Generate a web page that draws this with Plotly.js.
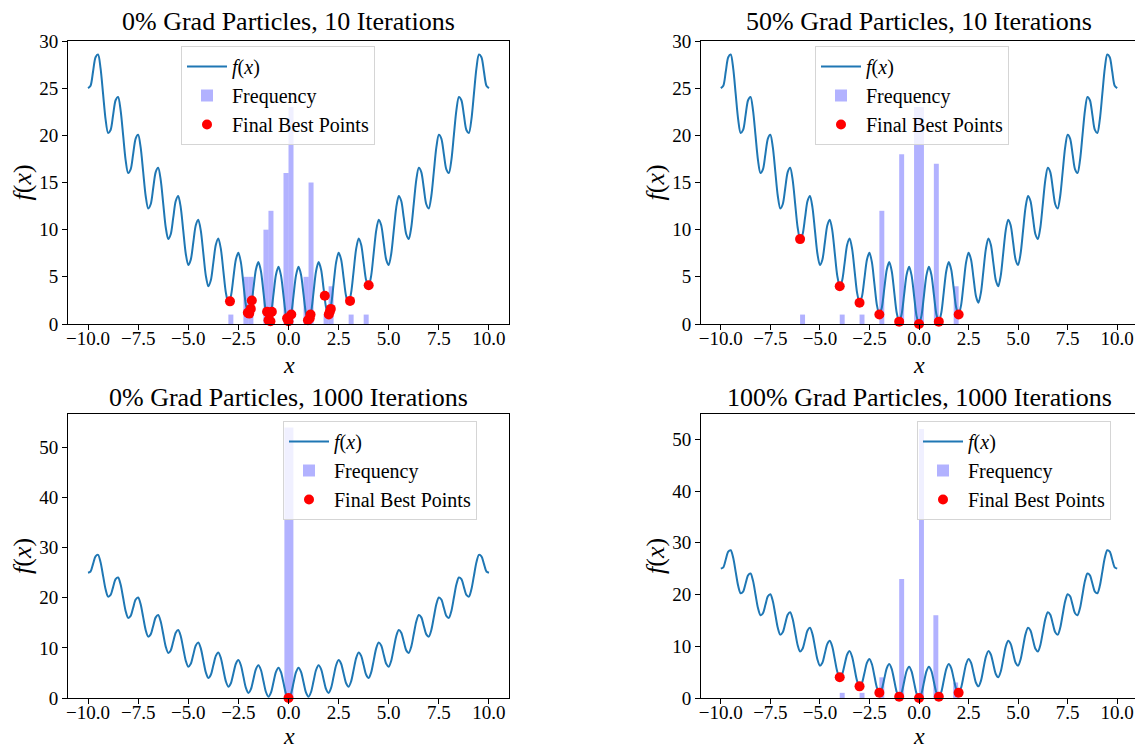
<!DOCTYPE html>
<html><head><meta charset="utf-8">
<script src="https://cdn.plot.ly/plotly-3.0.1.min.js"></script>
<style>html,body{margin:0;padding:0;overflow:hidden;background:#fff}#chart{width:1137px;height:750px}</style>
</head><body><div id="chart"></div>
<script>
const curveX = [-10,-9.875,-9.75,-9.625,-9.5,-9.375,-9.25,-9.125,-9,-8.875,-8.75,-8.625,-8.5,-8.375,-8.25,-8.125,-8,-7.875,-7.75,-7.625,-7.5,-7.375,-7.25,-7.125,-7,-6.875,-6.75,-6.625,-6.5,-6.375,-6.25,-6.125,-6,-5.875,-5.75,-5.625,-5.5,-5.375,-5.25,-5.125,-5,-4.875,-4.75,-4.625,-4.5,-4.375,-4.25,-4.125,-4,-3.875,-3.75,-3.625,-3.5,-3.375,-3.25,-3.125,-3,-2.875,-2.75,-2.625,-2.5,-2.375,-2.25,-2.125,-2,-1.875,-1.75,-1.625,-1.5,-1.375,-1.25,-1.125,-1,-0.875,-0.75,-0.625,-0.5,-0.375,-0.25,-0.125,0,0.125,0.25,0.375,0.5,0.625,0.75,0.875,1,1.125,1.25,1.375,1.5,1.625,1.75,1.875,2,2.125,2.25,2.375,2.5,2.625,2.75,2.875,3,3.125,3.25,3.375,3.5,3.625,3.75,3.875,4,4.125,4.25,4.375,4.5,4.625,4.75,4.875,5,5.125,5.25,5.375,5.5,5.625,5.75,5.875,6,6.125,6.25,6.375,6.5,6.625,6.75,6.875,7,7.125,7.25,7.375,7.5,7.625,7.75,7.875,8,8.125,8.25,8.375,8.5,8.625,8.75,8.875,9,9.125,9.25,9.375,9.5,9.625,9.75,9.875,10];
const curveY = [25,25.258,26.766,28.281,28.563,27.094,24.391,21.695,20.25,20.570,22.141,23.719,24.063,22.656,20.016,17.383,16,16.383,18.016,19.656,20.063,18.719,16.141,13.570,12.25,12.695,14.391,16.094,16.563,15.281,12.766,10.258,9,9.508,11.266,13.031,13.563,12.344,9.891,7.445,6.25,6.820,8.641,10.469,11.063,9.906,7.516,5.133,4,4.633,6.516,8.406,9.063,7.969,5.641,3.320,2.25,2.945,4.891,6.844,7.563,6.531,4.266,2.008,1,1.758,3.766,5.781,6.563,5.594,3.391,1.195,0.25,1.070,3.141,5.219,6.063,5.156,3.016,0.883,0,0.883,3.016,5.156,6.063,5.219,3.141,1.070,0.25,1.195,3.391,5.594,6.563,5.781,3.766,1.758,1,2.008,4.266,6.531,7.563,6.844,4.891,2.945,2.25,3.320,5.641,7.969,9.063,8.406,6.516,4.633,4,5.133,7.516,9.906,11.063,10.469,8.641,6.820,6.25,7.445,9.891,12.344,13.563,13.031,11.266,9.508,9,10.258,12.766,15.281,16.563,16.094,14.391,12.695,12.25,13.570,16.141,18.719,20.063,19.656,18.016,16.383,16,17.383,20.016,22.656,24.063,23.719,22.141,20.570,20.25,21.695,24.391,27.094,28.563,28.281,26.766,25.258,25];

// Panel 1: 0% grad, 10 iterations
const tlBinX = [-2.875,-2.125,-1.875,-1.125,-0.875,-0.125,0.125,0.875,1.125,1.875,2.125,3.125,3.875];
const tlBinCount = [1,5,5,10,12,16,23,5,15,1,4,1,1];
const tlPtX = [-2.92,-2.03,-1.96,-1.88,-1.83,-1.07,-0.95,-0.83,-1.0,-0.9,-0.07,0.14,0.0,0.97,1.1,1.06,1.81,2.01,2.11,2.06,3.07,4.0];
const tlPtY = [2.4,1.2,1.1,1.6,2.5,1.3,1.1,1.3,0.4,0.3,0.6,1.0,0.3,0.4,1.0,0.6,3.0,1.0,1.6,1.3,2.45,4.1];

// Panel 2: 50% grad, 10 iterations
const trBinX = [-5.875,-3.875,-2.875,-1.875,-0.875,-0.125,0.125,0.875,1.875];
const trBinCount = [1,1,1,12,18,23,23,17,4];
const trPtX = [-6,-4,-3,-2,-1,0,1,2];
const trPtY = [9,4,2.25,1,0.25,0,0.25,1];

// Panel 3: 0% grad, 1000 iterations
const blBinX = [0.02];
const blBinCount = [54];
const blPtX = [0];
const blPtY = [0];

// Panel 4: 100% grad, 1000 iterations
const brBinX = [-3.875,-2.875,-1.875,-0.875,0.125,0.85,1.85];
const brBinCount = [1,1,4,23,52,16,3];
const brPtX = [-4,-3,-2,-1,0,1,2];
const brPtY = [4,2.25,1,0.25,0,0.25,1];

const titles = ['0% Grad Particles, 10 Iterations','50% Grad Particles, 10 Iterations','0% Grad Particles, 1000 Iterations','100% Grad Particles, 1000 Iterations'];
const xTicks = [-10,-7.5,-5,-2.5,0,2.5,5,7.5,10];

const F = 'Liberation Serif, DejaVu Serif, serif';
const W = 1137, H = 750;
const panels = [
  {bx:tlBinX, bc:tlBinCount, bw:0.25, px:tlPtX, py:tlPtY, ymax:30, dt:5, dom:[68,509,41,324], leg:[181,46], tY:22, ylX:22},
  {bx:trBinX, bc:trBinCount, bw:0.25, px:trPtX, py:trPtY, ymax:30, dt:5, dom:[701,1137,41,324], leg:[815,46], tY:22, ylX:655},
  {bx:blBinX, bc:blBinCount, bw:0.45, px:blPtX, py:blPtY, ymax:56.7, dt:10, dom:[68,509,414,698], leg:[283,421], tY:398, ylX:22},
  {bx:brBinX, bc:brBinCount, bw:0.25, px:brPtX, py:brPtY, ymax:54.9, dt:10, dom:[701,1137,414,698], leg:[917,421], tY:398, ylX:655}
];

const traces = [];
const layout = {width:W, height:H, margin:{l:0,r:0,t:0,b:0}, paper_bgcolor:'#fff', plot_bgcolor:'#fff',
  font:{family:F, color:'#000'}, showlegend:true, annotations:[]};

panels.forEach((p,i)=>{
  const n = i===0 ? '' : String(i+1);
  const xa = 'x'+n, ya = 'y'+n, lg = 'legend'+n;
  traces.push({type:'bar', x:p.bx, y:p.bc, width:p.bx.map(()=>p.bw), xaxis:xa, yaxis:ya,
    marker:{color:'rgba(0,0,255,0.3)', line:{width:0}}, name:'Frequency', legend:lg, legendrank:2});
  traces.push({type:'scatter', mode:'lines', x:curveX, y:curveY, xaxis:xa, yaxis:ya,
    line:{color:'#1f77b4', width:2, shape:'spline', smoothing:0.8}, name:'<i>f</i>(<i>x</i>)', legend:lg, legendrank:1});
  traces.push({type:'scatter', mode:'markers', x:p.px, y:p.py, xaxis:xa, yaxis:ya,
    marker:{color:'red', size:10}, name:'Final Best Points', legend:lg, legendrank:3, cliponaxis:false});
  const d = p.dom;
  const bottomRow = d[3] > 500;
  layout['xaxis'+n] = {domain:[d[0]/W, d[1]/W], anchor:ya, range:[-11,11], tickvals:xTicks, tickformat:'.1f',
    showline:true, linecolor:'#000', linewidth:1, mirror:true, ticks:'outside', ticklen:5, tickcolor:'#000',
    ticklabelstandoff:-8,
    showgrid:false, zeroline:false, tickfont:{family:F, size:19, color:'#000'}};
  layout['yaxis'+n] = {domain:[1-d[3]/H, 1-d[2]/H], anchor:xa, range:[0,p.ymax], dtick:p.dt,
    showline:true, linecolor:'#000', linewidth:1, mirror:true, ticks:'outside', ticklen:5, tickcolor:'#000',
    showgrid:false, zeroline:false, tickfont:{family:F, size:19, color:'#000'}};
  layout[lg] = {x:p.leg[0]/W, y:1-p.leg[1]/H, xanchor:'left', yanchor:'top', bgcolor:'rgba(255,255,255,0.8)',
    bordercolor:'#d5d5d5', borderwidth:1, itemwidth:40, font:{family:F, size:20, color:'#000'}, traceorder:'normal'};
  layout.annotations.push({text:titles[i], xref:'paper', yref:'paper', x:(d[0]+d[1])/2/W, y:1-p.tY/H,
    xanchor:'center', yanchor:'middle', showarrow:false, font:{family:F, size:26, color:'#000'}});
  layout.annotations.push({text:'<i>x</i>', xref:'paper', yref:'paper', x:(d[0]+d[1])/2/W,
    y: bottomRow ? 0 : 1-379/H, xanchor:'center', yanchor:'bottom', borderpad:0, showarrow:false,
    font:{family:F, size:24, color:'#000'}});
  layout.annotations.push({text:'<i>f</i>(<i>x</i>)', xref:'paper', yref:'paper', x:p.ylX/W, y:1-(d[2]+d[3])/2/H,
    xanchor:'center', yanchor:'middle', textangle:-90, borderpad:0, showarrow:false, font:{family:F, size:26, color:'#000'}});
});

Plotly.newPlot('chart', traces, layout, {displayModeBar:false, staticPlot:true});
</script>
</body></html>
